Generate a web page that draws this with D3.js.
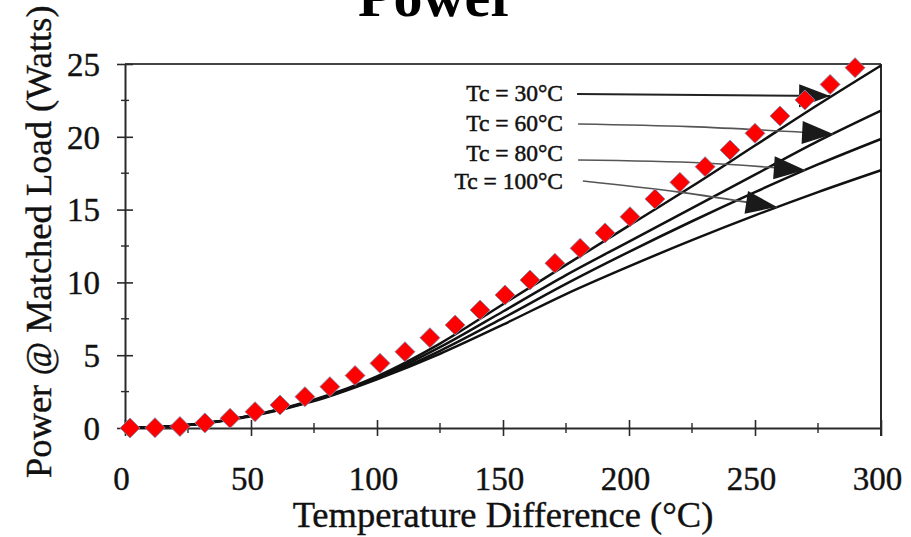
<!DOCTYPE html>
<html>
<head>
<meta charset="utf-8">
<script src="https://cdn.jsdelivr.net/npm/d3@7"></script>
<style>
  html, body { margin: 0; padding: 0; background: #fff; }
  svg { display: block; }
  svg text { font-family: "Liberation Serif", "Times New Roman", serif; }
</style>
</head>
<body>
<svg id="chart" width="911" height="537"></svg>
<script>
// ---------- data ----------
const titleText = "Power";
const xTitle = "Temperature Difference (\u00B0C)";
const yTitle = "Power @ Matched Load (Watts)";

const xMajorTicks = [0, 50, 100, 150, 200, 250, 300];
const xMinorTicks = [25, 75, 125, 175, 225, 275];
const yMajorTicks = [0, 5, 10, 15, 20, 25];
const yMinorTicks = [2.5, 7.5, 12.5, 17.5, 22.5];

// measured points (red diamonds)
const measX = [2.0, 11.9, 21.8, 31.7, 41.7, 51.6, 61.5, 71.4, 81.3, 91.3,
               101.2, 111.1, 121.0, 131.0, 140.9, 150.8, 160.7, 170.6, 180.6, 190.5,
               200.4, 210.3, 220.2, 230.2, 240.1, 250.0, 259.9, 269.8, 279.8, 289.7];
const measY = [0.0, 0.02, 0.1, 0.35, 0.67, 1.12, 1.58, 2.15, 2.84, 3.6,
               4.44, 5.24, 6.2, 7.07, 8.1, 9.13, 10.16, 11.31, 12.34, 13.4,
               14.51, 15.73, 16.87, 17.95, 19.09, 20.24, 21.43, 22.53, 23.6, 24.75];

// model curves for each cold-side temperature
const curveX = [0, 25, 50, 75, 100, 125, 150, 175, 200, 225, 250, 275, 300];
const tc30  = [0, 0.2, 0.85, 1.95, 3.55, 5.8, 8.5, 11.2, 13.9, 16.6, 19.4, 22.2, 24.9];
const tc60  = [0, 0.2, 0.85, 1.9, 3.45, 5.55, 8.0, 10.5, 12.8, 15.1, 17.4, 19.7, 21.8];
const tc80  = [0, 0.2, 0.85, 1.9, 3.4, 5.3, 7.55, 9.9, 12.1, 14.2, 16.2, 18.1, 19.85];
const tc100 = [0, 0.2, 0.8, 1.85, 3.35, 5.1, 7.1, 9.2, 11.1, 12.9, 14.6, 16.2, 17.7];
const seriesNames = ["Tc = 30\u00B0C", "Tc = 60\u00B0C", "Tc = 80\u00B0C", "Tc = 100\u00B0C"];
const seriesValues = [tc30, tc60, tc80, tc100];

// annotation arrows (data coordinates): label anchor, then path points ending at the tip
const annLabel = [[173.8, 22.46], [173.8, 20.4], [173.8, 18.35], [173.8, 16.43]];
const annPath = [
  [[179.4, 22.94], [279.8, 22.8]],
  [[179.8, 20.88], [224.0, 20.7], [281.0, 20.19]],
  [[179.8, 18.41], [230.0, 18.2], [269.8, 17.72]],
  [[181.7, 16.96], [220.0, 16.2], [258.7, 15.18]]
];

// ---------- chart ----------
const svg = d3.select("#chart");
const x = d3.scaleLinear().domain([0, 300]).range([125, 881]);
const y = d3.scaleLinear().domain([0, 25]).range([428, 64]);
const axisColor = "#2a2a2a";
const serif = "Liberation Serif, Times New Roman, serif";

// title (cut at top, as in the reference)
svg.append("text").attr("x", 437).attr("y", 16)
  .attr("text-anchor", "middle").attr("font-weight", "bold")
  .attr("font-family", serif)
  .attr("font-size", 58).attr("fill", "#000").text(titleText);

// frame
const g = svg.append("g");
g.append("line").attr("x1", x(0)).attr("x2", x(300)).attr("y1", y(25)).attr("y2", y(25))
  .attr("stroke", "#444").attr("stroke-width", 2);
g.append("line").attr("x1", x(300)).attr("x2", x(300)).attr("y1", y(25)).attr("y2", y(0) + 8)
  .attr("stroke", axisColor).attr("stroke-width", 2);

// x axis
const xAxis = g.append("g").attr("transform", `translate(0,${y(0)})`)
  .call(d3.axisBottom(x).tickValues(xMajorTicks).tickSize(0).tickPadding(0).tickFormat(d3.format("d")));
xAxis.select(".domain").attr("stroke", axisColor).attr("stroke-width", 2);
xAxis.selectAll(".tick line").attr("y1", -8).attr("y2", 8).attr("stroke", axisColor).attr("stroke-width", 1.6);
xAxis.selectAll(".tick text").attr("y", 62).attr("dy", 0).attr("dx", -4)
  .attr("font-size", 33).attr("fill", "#111").attr("stroke", "#111").attr("stroke-width", 0.4)
  .attr("font-family", serif);
g.append("g").attr("transform", `translate(0,${y(0)})`)
  .selectAll("line").data(xMinorTicks).join("line")
  .attr("x1", d => x(d)).attr("x2", d => x(d)).attr("y1", -5).attr("y2", 5)
  .attr("stroke", axisColor).attr("stroke-width", 1.4);

// y axis
const yAxis = g.append("g").attr("transform", `translate(${x(0)},0)`)
  .call(d3.axisLeft(y).tickValues(yMajorTicks).tickSize(0).tickPadding(0).tickFormat(d3.format("d")));
yAxis.select(".domain").attr("stroke", axisColor).attr("stroke-width", 2);
yAxis.selectAll(".tick line").attr("x1", -8).attr("x2", 8).attr("stroke", axisColor).attr("stroke-width", 1.6);
yAxis.selectAll(".tick text").attr("x", -25).attr("dy", "0.34em")
  .attr("font-size", 33).attr("fill", "#111").attr("stroke", "#111").attr("stroke-width", 0.4)
  .attr("font-family", serif);
g.append("g").attr("transform", `translate(${x(0)},0)`)
  .selectAll("line").data(yMinorTicks).join("line")
  .attr("y1", d => y(d)).attr("y2", d => y(d)).attr("x1", -4).attr("x2", 4)
  .attr("stroke", axisColor).attr("stroke-width", 1.4);
g.append("line").attr("x1", x(0)).attr("x2", x(0)).attr("y1", y(0)).attr("y2", y(0) + 5)
  .attr("stroke", axisColor).attr("stroke-width", 2);

// axis titles
svg.append("text").attr("x", (x(0) + x(300)) / 2).attr("y", 527)
  .attr("text-anchor", "middle").attr("font-size", 36.5).attr("font-family", serif)
  .attr("fill", "#111").attr("stroke", "#111").attr("stroke-width", 0.4).text(xTitle);
svg.append("text").attr("transform", "translate(51,478) rotate(-90)")
  .attr("text-anchor", "start").attr("font-size", 36.5).attr("font-family", serif)
  .attr("fill", "#111").attr("stroke", "#111").attr("stroke-width", 0.4).text(yTitle);

// model curves
const line = d3.line().x(d => x(d[0])).y(d => y(d[1])).curve(d3.curveCatmullRom.alpha(0.5));
seriesValues.forEach(vals => {
  svg.append("path").datum(curveX.map((cx, i) => [cx, vals[i]]))
    .attr("d", line).attr("fill", "none").attr("stroke", "#111").attr("stroke-width", 2.5);
});

// annotations
const aLine = d3.line().x(d => x(d[0])).y(d => y(d[1])).curve(d3.curveMonotoneX);
seriesNames.forEach((name, i) => {
  svg.append("text").attr("x", x(annLabel[i][0])).attr("y", y(annLabel[i][1]))
    .attr("text-anchor", "end").attr("font-size", 23.5).attr("font-family", serif)
    .attr("fill", "#111").attr("stroke", "#111").attr("stroke-width", 0.5).text(name);
  const pts = annPath[i];
  svg.append("path").datum(pts).attr("d", aLine).attr("fill", "none")
    .attr("stroke", i === 0 ? "#222" : "#555").attr("stroke-width", i === 0 ? 2 : 1.6);
  // arrowhead along last segment
  const p1 = [x(pts[pts.length - 2][0]), y(pts[pts.length - 2][1])];
  const p2 = [x(pts[pts.length - 1][0]), y(pts[pts.length - 1][1])];
  const ang = Math.atan2(p2[1] - p1[1], p2[0] - p1[0]);
  const len = 31, hw = 11.5;
  const bx = p2[0] - len * Math.cos(ang), by = p2[1] - len * Math.sin(ang);
  const nx = -Math.sin(ang) * hw, ny = Math.cos(ang) * hw;
  svg.append("path")
    .attr("d", `M${p2[0]},${p2[1]}L${bx + nx},${by + ny}L${bx - nx},${by - ny}Z`)
    .attr("fill", "#1a1a1a");
});

// measured diamonds
const sym = d3.symbol().type(d3.symbolSquare).size(200);
svg.append("g").selectAll("path").data(measX.map((mx, i) => [mx, measY[i]])).join("path")
  .attr("d", sym)
  .attr("transform", d => `translate(${x(d[0])},${y(d[1])}) rotate(45)`)
  .attr("fill", "#ff0000").attr("stroke", "#7a8fb0").attr("stroke-width", 0.8);
</script>
</body>
</html>
